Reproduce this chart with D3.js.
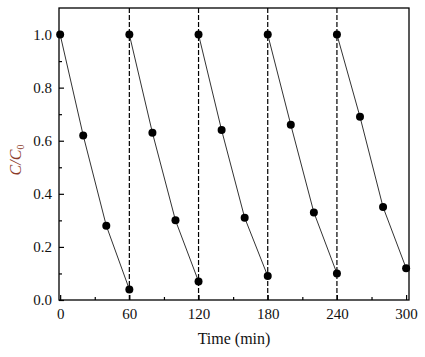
<!DOCTYPE html>
<html><head><meta charset="utf-8">
<script src="https://cdn.jsdelivr.net/npm/d3@7"></script>
<style>body{margin:0;background:#fff}svg{display:block}text{font-family:"Liberation Serif","Times New Roman",serif}</style>
</head><body><svg id="c" width="425" height="357"></svg>
<script>
const times = [0, 20, 40, 60];
const cycle1 = [1.0, 0.62, 0.28, 0.04];
const cycle2 = [1.0, 0.63, 0.30, 0.07];
const cycle3 = [1.0, 0.64, 0.31, 0.09];
const cycle4 = [1.0, 0.66, 0.33, 0.10];
const cycle5 = [1.0, 0.69, 0.35, 0.12];
const cycleStarts = [0, 60, 120, 180, 240];
const dividers = [60, 120, 180, 240];
const xTicks = [0, 60, 120, 180, 240, 300];
const yTicks = [0.0, 0.2, 0.4, 0.6, 0.8, 1.0];

const svg = d3.select("#c");
const L = 59, R = 409, T = 8, B = 300;
const x = d3.scaleLinear().domain([-1, 302.5]).range([L, R]);
const y = d3.scaleLinear().domain([0, 1.1]).range([B, T]);

// dashed dividers
svg.selectAll(".div").data(dividers).enter().append("line")
  .attr("x1", d => x(d)).attr("x2", d => x(d)).attr("y1", T).attr("y2", B)
  .attr("stroke", "#000").attr("stroke-width", 1.2).attr("stroke-dasharray", "5,2");

// frame
svg.append("rect").attr("x", L).attr("y", T).attr("width", R - L).attr("height", B - T)
  .attr("fill", "none").attr("stroke", "#000").attr("stroke-width", 1.3);

// axes
const xAxis = d3.axisBottom(x).tickValues(xTicks).tickSize(-5).tickPadding(8).tickFormat(d3.format("d"));
svg.append("g").attr("transform", `translate(0,${B})`).call(xAxis);
const xMinor = d3.axisBottom(x).tickValues([30, 90, 150, 210, 270]).tickSize(-3).tickFormat("");
svg.append("g").attr("transform", `translate(0,${B})`).call(xMinor);
const yAxis = d3.axisLeft(y).tickValues(yTicks).tickSize(-5).tickPadding(7).tickFormat(d3.format(".1f"));
svg.append("g").attr("transform", `translate(${L},0)`).call(yAxis);
const yMinor = d3.axisLeft(y).tickValues([0.1, 0.3, 0.5, 0.7, 0.9]).tickSize(-3).tickFormat("");
svg.append("g").attr("transform", `translate(${L},0)`).call(yMinor);
svg.selectAll(".domain").remove();
svg.selectAll(".tick line").attr("stroke", "#000").attr("stroke-width", 1.2);
svg.selectAll(".tick text").attr("font-size", 15).attr("fill", "#111");

// series
const series = [cycle1, cycle2, cycle3, cycle4, cycle5];
const line = d3.line().x(d => x(d[0])).y(d => y(d[1]));
series.forEach((vals, i) => {
  const pts = vals.map((v, j) => [cycleStarts[i] + times[j], v]);
  svg.append("path").attr("d", line(pts)).attr("fill", "none").attr("stroke", "#333").attr("stroke-width", 1);
  svg.selectAll(null).data(pts).enter().append("circle")
    .attr("cx", d => x(d[0])).attr("cy", d => y(d[1])).attr("r", 4).attr("fill", "#000");
});

// labels
svg.append("text").attr("x", 234).attr("y", 344).attr("text-anchor", "middle")
  .attr("font-size", 16).attr("fill", "#111").text("Time (min)");
const yl = svg.append("text").attr("transform", "translate(21,160) rotate(-90)")
  .attr("text-anchor", "middle").attr("font-size", 16).attr("fill", "#8b3a2a").attr("font-style", "italic");
yl.append("tspan").text("C/C");
yl.append("tspan").attr("font-size", 10).attr("dy", 3).attr("font-style", "normal").text("0");
</script></body></html>
